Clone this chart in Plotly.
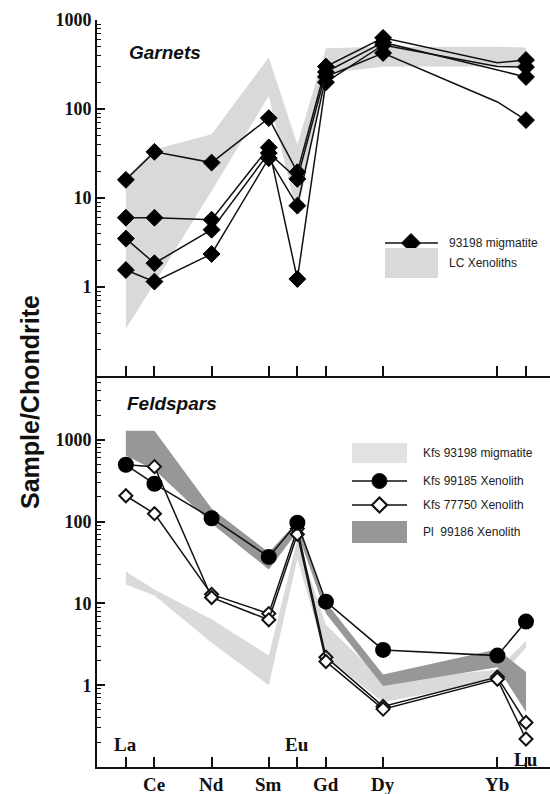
import plotly.graph_objects as go

# ---------------- data ----------------
REE = ['La', 'Ce', 'Pr', 'Nd', 'Pm', 'Sm', 'Eu', 'Gd', 'Tb', 'Dy', 'Ho', 'Er', 'Tm', 'Yb', 'Lu']
elements = ['La', 'Ce', 'Nd', 'Sm', 'Eu', 'Gd', 'Dy', 'Yb', 'Lu']
label_low = ['Ce', 'Nd', 'Sm', 'Gd', 'Dy', 'Yb']
label_high = ['La', 'Eu']
label_mid = ['Lu']

# Garnets (93198 migmatite), chondrite-normalised
grt_1 = [16, 33, 25, 79, 19.5, 300, 630, 330, 355]
grt_2 = [6, 6, 5.7, 37, 1.23, 200, 524, 300, 296]
grt_3 = [3.5, 1.85, 4.4, 32, 16.4, 260, 560, 270, 229]
grt_4 = [1.55, 1.15, 2.35, 28, 8.2, 230, 426, 120, 75]
grt_marked = [True, True, True, True, True, True, True, False, True]

# LC xenoliths field
lc_upper = [17, 35, 52, 380, 40, 480, 500, 500, 490]
lc_lower = [0.34, 1.1, 12, 140, 6.3, 250, 300, 300, 300]

# Feldspars
kfs_mig_upper = [24.5, 14.8, 6.4, 2.3, 60, 5.5, 1.15, 1.55, 3.5]
kfs_mig_lower = [17, 12.5, 3.3, 1.0, 35, 2.2, 0.62, 1.15, 2.9]
kfs_99185 = [495, 290, 110, 37, 97, 10.5, 2.7, 2.3, 6.0]
kfs_77750_a = [207, 125, 12.9, 7.5, 82, 2.2, 0.55, 1.26, 0.35]
kfs_77750_b = [495, 470, 11.8, 6.3, 70, 1.95, 0.51, 1.18, 0.22]
pl_upper = [1290, 1290, 145, 42, 100, 10.3, 1.35, 2.75, 1.45]
pl_lower = [640, 430, 95, 26, 75, 7.5, 0.98, 1.66, 0.47]

major_ticks = [1, 10, 100, 1000]
minor_ticks = [k * 10 ** d for d in range(-1, 4) for k in range(2, 10)]

# ---------------- helpers ----------------
pos = {e: i + 1 for i, e in enumerate(REE)}
xs = [pos[e] for e in elements]

L, R, T, B = 97, 0, 20, 27
W, H = 550, 794
PW, PH = W - L - R, H - T - B


def PX(X):
    return (X - L) / PW


def PY(Y):
    return (H - B - Y) / PH


split = PY(376)
LINE = '#111111'

fig = go.Figure()


def band(upper, lower, color, yaxis):
    fig.add_trace(go.Scatter(
        x=xs + xs[::-1], y=upper + lower[::-1], fill='toself',
        fillcolor=color, line=dict(width=0), mode='lines',
        hoverinfo='skip', showlegend=False, yaxis=yaxis, xaxis='x2' if yaxis == 'y2' else 'x'))


# top panel
band(lc_upper, lc_lower, '#d9d9d9', 'y2')
for s in [grt_1, grt_2, grt_3, grt_4]:
    fig.add_trace(go.Scatter(
        x=xs, y=s, mode='lines+markers', xaxis='x2', yaxis='y2',
        line=dict(color=LINE, width=1.5),
        marker=dict(symbol='diamond', size=[13 if m else 0 for m in grt_marked],
                    color='#000000', opacity=1, line=dict(width=1, color='#000000')),
        showlegend=False))

# bottom panel
band(kfs_mig_upper, kfs_mig_lower, '#dadada', 'y')
band(pl_upper, pl_lower, '#979797', 'y')
for s in [kfs_77750_a, kfs_77750_b]:
    fig.add_trace(go.Scatter(
        x=xs, y=s, mode='lines+markers', xaxis='x', yaxis='y',
        line=dict(color=LINE, width=1.5),
        marker=dict(symbol='diamond', size=10, color='white', opacity=1,
                    line=dict(color=LINE, width=2)),
        showlegend=False))
fig.add_trace(go.Scatter(
    x=xs, y=kfs_99185, mode='lines+markers', xaxis='x', yaxis='y',
    line=dict(color=LINE, width=1.5),
    marker=dict(symbol='circle', size=16, color='#000000', opacity=1),
    showlegend=False))

xrange = [-0.01, 15.84]
tickfont = dict(family='Liberation Serif', size=18, color='#111', weight='bold')
minor = dict(tickvals=minor_ticks, ticks='inside', ticklen=4, tickwidth=1.2, tickcolor=LINE)

common_x = dict(range=xrange, showgrid=False, zeroline=False, showticklabels=False,
                ticks='inside', ticklen=10, tickwidth=1.5, tickcolor=LINE,
                showline=True, linewidth=2, linecolor=LINE,
                tickvals=xs)
common_y = dict(type='log', showgrid=False, zeroline=False, tickvals=major_ticks,
                ticktext=[str(v) for v in major_ticks], ticks='inside', ticklen=8,
                tickwidth=1.5, tickcolor=LINE, minor=minor, tickfont=tickfont,
                showline=True, linewidth=2, linecolor=LINE)
right_y = dict(type='log', showgrid=False, zeroline=False, tickvals=major_ticks,
               ticks='inside', ticklen=7, tickwidth=1.5, tickcolor=LINE,
               showticklabels=False, showline=False, minor=minor, side='right')

fig.update_layout(
    width=W, height=H, margin=dict(l=L, r=R, t=T, b=B),
    paper_bgcolor='white', plot_bgcolor='white',
    xaxis=dict(common_x, anchor='y', domain=[0, 1]),
    xaxis2=dict(common_x, anchor='y2', domain=[0, 1]),
    xaxis3=dict(common_x, anchor='y2', overlaying='x2', side='top',
                tickvals=list(range(1, 16))),
    yaxis=dict(common_y, anchor='x', domain=[0, split], range=[-1, 3.78]),
    yaxis2=dict(common_y, anchor='x2', domain=[split, 1], range=[-1, 3]),
    yaxis3=dict(right_y, anchor='x2', overlaying='y2', range=[-1, 3]),
    yaxis4=dict(right_y, anchor='x', overlaying='y', range=[-1, 3.78]),
    showlegend=False,
)

ann = []
# element labels
for e in elements:
    if e in label_low:
        Y = 784
    elif e in label_high:
        Y = 744
    else:
        Y = 759
    ann.append(dict(x=pos[e], y=PY(Y), xref='x', yref='paper', text=e, showarrow=False,
                    font=dict(family='Liberation Serif', size=19, color='#111', weight='bold'),
                    xanchor='center', yanchor='middle'))

ann.append(dict(x=PX(30), y=PY(402), xref='paper', yref='paper', text='Sample/Chondrite',
                textangle=-90, showarrow=False,
                font=dict(family='Liberation Sans', size=25, color='#111', weight='bold'),
                xanchor='center', yanchor='middle'))
ann.append(dict(x=PX(127), y=PY(53), xref='paper', yref='paper', text='<b><i>Garnets</i></b>',
                showarrow=False, font=dict(family='Liberation Sans', size=19, color='#111'),
                xanchor='left', yanchor='middle'))
ann.append(dict(x=PX(125), y=PY(404), xref='paper', yref='paper', text='<b><i>Feldspars</i></b>',
                showarrow=False, font=dict(family='Liberation Sans', size=19, color='#111'),
                xanchor='left', yanchor='middle'))

legfont = dict(family='Liberation Sans', size=12, color='#222')
for txt, X, Y in [('93198 migmatite', 447, 243), ('LC Xenoliths', 447, 263),
                  ('Kfs 93198 migmatite', 421, 453), ('Kfs 99185 Xenolith', 421, 481),
                  ('Kfs 77750 Xenolith', 421, 505), ('Pl  99186 Xenolith', 421, 532)]:
    ann.append(dict(x=PX(X), y=PY(Y), xref='paper', yref='paper', text=txt, showarrow=False,
                    font=legfont, xanchor='left', yanchor='middle'))

shapes = []


def hline(X0, X1, Y):
    shapes.append(dict(type='line', xref='paper', yref='paper', x0=PX(X0), x1=PX(X1),
                       y0=PY(Y), y1=PY(Y), line=dict(color=LINE, width=1.5)))


def rect(X0, X1, Y0, Y1, color):
    shapes.append(dict(type='rect', xref='paper', yref='paper', x0=PX(X0), x1=PX(X1),
                       y0=PY(Y1), y1=PY(Y0), fillcolor=color, line=dict(width=0)))


def diamond(X, Y, h, fill, lw):
    p = (f'M {PX(X)},{PY(Y - h)} L {PX(X + h)},{PY(Y)} L {PX(X)},{PY(Y + h)} '
         f'L {PX(X - h)},{PY(Y)} Z')
    shapes.append(dict(type='path', xref='paper', yref='paper', path=p, fillcolor=fill,
                       opacity=1, line=dict(color=LINE, width=lw)))


hline(385, 438, 243)
diamond(411, 243, 9.5, '#000000', 1)
rect(385, 438, 248, 278, '#d9d9d9')

rect(352, 407, 443, 463, '#e2e2e2')
hline(352, 407, 481)
shapes.append(dict(type='circle', xref='paper', yref='paper', x0=PX(372), x1=PX(387),
                   y0=PY(488.5), y1=PY(473.5), fillcolor='#000000', opacity=1,
                   line=dict(color=LINE, width=1)))
hline(352, 407, 505)
diamond(379.5, 505, 7.5, 'white', 2.2)
rect(352, 407, 521, 543, '#979797')

fig.update_layout(annotations=ann, shapes=shapes)
fig.write_html('out.html')
